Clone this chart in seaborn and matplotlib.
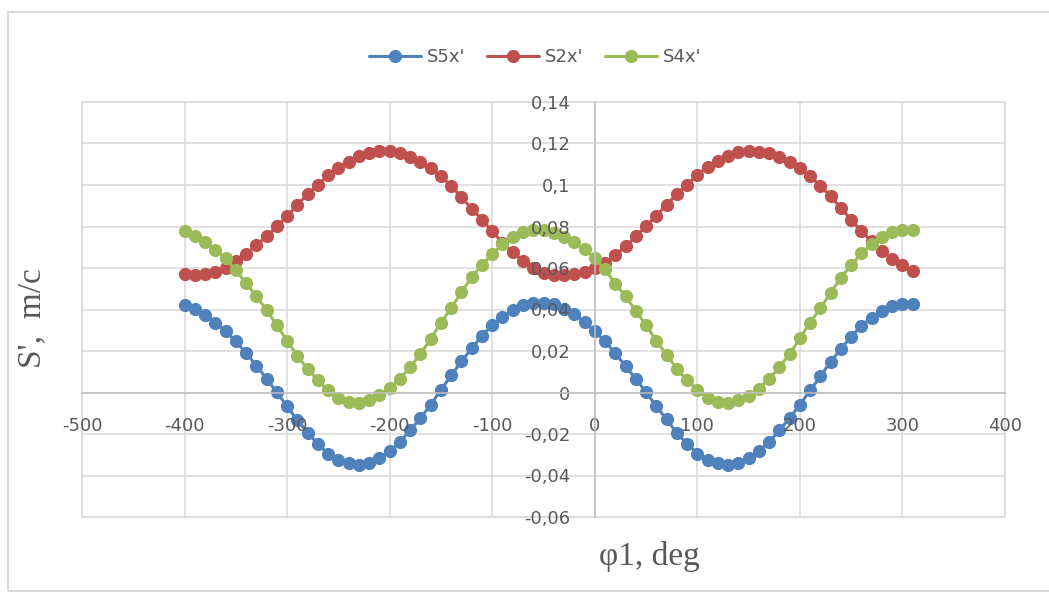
import numpy as np
import pandas as pd
import matplotlib
matplotlib.use("Agg")
import matplotlib.pyplot as plt
from matplotlib.ticker import MultipleLocator, FuncFormatter, NullFormatter
from matplotlib.lines import Line2D
from matplotlib.patches import Rectangle
import seaborn as sns

# angle phi1, deg (step 10)
phi = list(range(-400, 320, 10))

s5x = [0.0421, 0.0401, 0.0373, 0.0337, 0.0297, 0.0246, 0.0190, 0.0130, 0.0066, 0.0001,
       -0.0067, -0.0134, -0.0193, -0.0249, -0.0294, -0.0326, -0.0342, -0.0350, -0.0339, -0.0315,
       -0.0283, -0.0238, -0.0182, -0.0123, -0.0059, 0.0013, 0.0082, 0.0150, 0.0213, 0.0273,
       0.0326, 0.0365, 0.0398, 0.0421, 0.0430, 0.0433, 0.0425, 0.0404, 0.0380, 0.0340,
       0.0294, 0.0246, 0.0190, 0.0126, 0.0066, 0.0001, -0.0067, -0.0129, -0.0195, -0.0246,
       -0.0294, -0.0326, -0.0342, -0.0350, -0.0342, -0.0318, -0.0283, -0.0238, -0.0182, -0.0123,
       -0.0059, 0.0010, 0.0078, 0.0149, 0.0210, 0.0269, 0.0321, 0.0361, 0.0393, 0.0417,
       0.0425, 0.0425]

s2x = [0.0573, 0.0566, 0.0569, 0.0580, 0.0601, 0.0633, 0.0668, 0.0710, 0.0753, 0.0801,
       0.0849, 0.0905, 0.0956, 0.1001, 0.1046, 0.1084, 0.1113, 0.1140, 0.1156, 0.1166,
       0.1166, 0.1153, 0.1137, 0.1113, 0.1081, 0.1041, 0.0997, 0.0940, 0.0886, 0.0833,
       0.0777, 0.0721, 0.0676, 0.0636, 0.0601, 0.0577, 0.0566, 0.0566, 0.0569, 0.0582,
       0.0601, 0.0625, 0.0662, 0.0705, 0.0753, 0.0801, 0.0852, 0.0905, 0.0956, 0.1001,
       0.1049, 0.1089, 0.1117, 0.1140, 0.1157, 0.1164, 0.1161, 0.1153, 0.1137, 0.1113,
       0.1081, 0.1041, 0.0996, 0.0945, 0.0889, 0.0833, 0.0777, 0.0729, 0.0681, 0.0644,
       0.0613, 0.0585]

s4x = [0.0777, 0.0756, 0.0726, 0.0689, 0.0646, 0.0590, 0.0526, 0.0465, 0.0397, 0.0325,
       0.0249, 0.0177, 0.0114, 0.0058, 0.0010, -0.0025, -0.0046, -0.0051, -0.0038, -0.0014,
       0.0021, 0.0066, 0.0121, 0.0186, 0.0258, 0.0337, 0.0406, 0.0484, 0.0556, 0.0614,
       0.0668, 0.0716, 0.0748, 0.0772, 0.0785, 0.0785, 0.0769, 0.0748, 0.0726, 0.0692,
       0.0646, 0.0593, 0.0524, 0.0465, 0.0393, 0.0325, 0.0249, 0.0182, 0.0114, 0.0058,
       0.0013, -0.0025, -0.0046, -0.0051, -0.0038, -0.0019, 0.0018, 0.0066, 0.0121, 0.0186,
       0.0261, 0.0337, 0.0406, 0.0481, 0.0553, 0.0614, 0.0670, 0.0716, 0.0750, 0.0774,
       0.0785, 0.0785]

series_names = ["S5x'", "S2x'", "S4x'"]
colors = ["#4F81BD", "#C0504D", "#9BBB59"]

df = pd.concat([
    pd.DataFrame({"phi": phi, "S": vals, "series": name})
    for name, vals in zip(series_names, [s5x, s2x, s4x])
])

sns.set_style("white")
plt.rcParams["font.family"] = ["DejaVu Sans"]
plt.rcParams["axes.unicode_minus"] = False

GRID = "#D9D9D9"
AXIS = "#BFBFBF"
TXT = "#595959"

fig = plt.figure(figsize=(10.49, 5.96), dpi=100)
pos = [82 / 1049, 1 - 517 / 596, 923 / 1049, 415 / 596]
ax = fig.add_axes(pos)

sns.lineplot(data=df, x="phi", y="S", hue="series", palette=colors, sort=False,
             marker="o", markersize=9.5, markeredgewidth=0, linewidth=2.2,
             legend=False, ax=ax, zorder=3)


def comma_fmt(v, p):
    v = round(v, 4)
    if abs(v) < 1e-9:
        v = 0
    return f"{v:g}".replace(".", ",")


def setup_scale(a):
    a.set_xlim(-500, 400)
    a.set_ylim(-0.06, 0.14)
    a.xaxis.set_major_locator(MultipleLocator(100))
    a.xaxis.set_minor_locator(MultipleLocator(20))
    a.yaxis.set_major_locator(MultipleLocator(0.02))
    a.yaxis.set_minor_locator(MultipleLocator(0.004))


# bottom axes: grid + data
setup_scale(ax)
ax.grid(True, which="major", color=GRID, linewidth=1.1)
ax.set_axisbelow(True)
for s in ax.spines.values():
    s.set_visible(False)
ax.tick_params(which="both", length=0, labelbottom=False, labelleft=False)
ax.set_xlabel("")
ax.set_ylabel("")
ax.add_patch(Rectangle((0, 0), 1, 1, transform=ax.transAxes, fill=False,
                       edgecolor=GRID, linewidth=1.1, clip_on=False, zorder=0.5))

# overlay axes: axes crossing at zero with tick labels drawn on top of the data
ax_top = fig.add_axes(pos, sharex=ax, sharey=ax)
ax_top.patch.set_visible(False)
ax_top.grid(False)
setup_scale(ax_top)
ax_top.xaxis.set_major_formatter(FuncFormatter(comma_fmt))
ax_top.yaxis.set_major_formatter(FuncFormatter(comma_fmt))
for side in ["left", "bottom"]:
    ax_top.spines[side].set_position(("data", 0))
    ax_top.spines[side].set_color(AXIS)
    ax_top.spines[side].set_linewidth(1.1)
for side in ["top", "right"]:
    ax_top.spines[side].set_visible(False)
ax_top.tick_params(which="both", direction="inout", length=7, width=1.1, color=AXIS,
                   labelcolor=TXT, labelsize=13, pad=14, labelbottom=True, labelleft=True)

fig.text(32 / 1049, 1 - 318 / 596, "S',  m/c", rotation=90, ha="center", va="center",
         fontsize=24, color=TXT, family=["Liberation Serif", "DejaVu Serif"])
fig.text(649 / 1049, 1 - 556 / 596, "φ1, deg", ha="center", va="center",
         fontsize=24, color=TXT, family=["Liberation Serif", "DejaVu Serif"])

handles = [Line2D([], [], color=c, marker="o", markersize=9.5, markeredgewidth=0,
                  linewidth=2.2) for c in colors]
leg = fig.legend(handles, series_names, loc="center", bbox_to_anchor=(535 / 1049, 1 - 57 / 596),
                 ncol=3, frameon=False, fontsize=13, handlelength=2.9, handletextpad=0.3,
                 columnspacing=1.2)
for t in leg.get_texts():
    t.set_color(TXT)

fig.patches.append(Rectangle((8 / 1049, 1 - 591 / 596), 1.05, (591 - 12) / 596,
                             transform=fig.transFigure, fill=False, edgecolor=GRID,
                             linewidth=1.4))

fig.savefig("out.png", dpi=100)
